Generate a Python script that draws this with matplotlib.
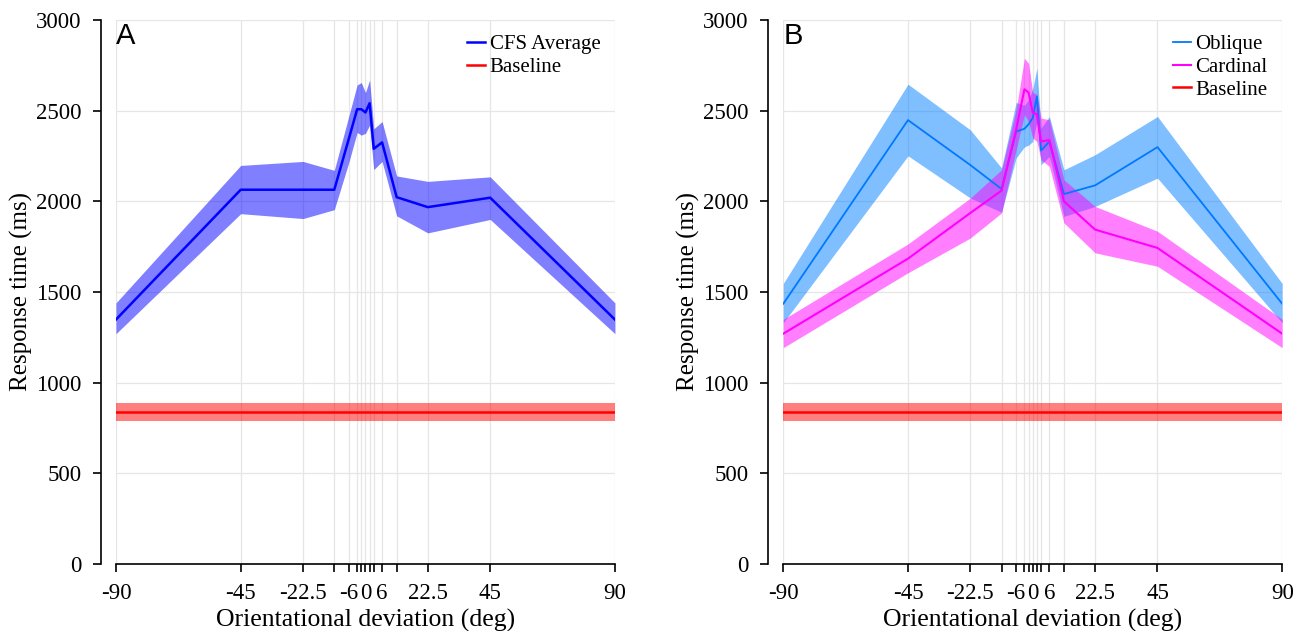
import matplotlib
matplotlib.use("Agg")
import matplotlib.pyplot as plt

# orientational deviation (deg) at which response times were measured
devs = [-90, -45, -22.5, -11.25, -6, -3, -1.5, 0, 1.5, 3, 6, 11.25, 22.5, 45, 90]

# panel A: CFS average
cfs_mean = [1348, 2064, 2064, 2064, 2345, 2508, 2508, 2490, 2541, 2290, 2325, 2023, 1968, 2020, 1348]
cfs_hi = [1440, 2198, 2220, 2171, 2470, 2642, 2655, 2600, 2669, 2400, 2440, 2140, 2110, 2135, 1440]
cfs_lo = [1270, 1932, 1905, 1954, 2215, 2380, 2365, 2375, 2420, 2175, 2220, 1920, 1826, 1900, 1270]

# panel B: oblique vs cardinal
obl_mean = [1435, 2448, 2200, 2068, 2385, 2400, 2425, 2460, 2578, 2280, 2330, 2040, 2088, 2299, 1435]
obl_hi = [1547, 2646, 2394, 2184, 2545, 2530, 2560, 2620, 2734, 2404, 2468, 2174, 2257, 2468, 1547]
obl_lo = [1330, 2251, 2018, 1940, 2239, 2300, 2310, 2330, 2440, 2202, 2248, 1917, 1972, 2128, 1330]

card_mean = [1270, 1684, 1936, 2059, 2394, 2618, 2600, 2490, 2480, 2330, 2338, 2000, 1844, 1743, 1270]
card_hi = [1349, 1765, 2018, 2174, 2505, 2789, 2761, 2600, 2590, 2459, 2450, 2119, 1972, 1835, 1349]
card_lo = [1193, 1606, 1798, 1936, 2284, 2477, 2440, 2349, 2330, 2229, 2193, 1881, 1716, 1642, 1193]

# baseline (no masking)
base_x = [-90, 90]
base_mean = [838, 838]
base_hi = [890, 890]
base_lo = [789, 789]

tick_pos = [-90, -45, -22.5, -11.25, -6, -3, -1.5, 0, 1.5, 3, 6, 11.25, 22.5, 45, 90]
tick_lab = ["-90", "-45", "-22.5", "", "-6", "", "", "0", "", "", "6", "", "22.5", "45", "90"]
y_ticks = [0, 500, 1000, 1500, 2000, 2500, 3000]

plt.rcParams["font.family"] = ["Liberation Serif", "DejaVu Serif"]

fig = plt.figure(figsize=(13.12, 6.31), dpi=100)
axA = fig.add_axes([0.0884, 0.1062, 0.3803, 0.8621])
axB = fig.add_axes([0.5970, 0.1062, 0.3803, 0.8621])


def style_axes(ax, letter):
    ax.set_xlim(-90, 90)
    ax.set_ylim(0, 3000)
    ax.set_xticks(tick_pos)
    ax.set_xticklabels(tick_lab)
    ax.set_yticks(y_ticks)
    ax.tick_params(labelsize=16.5, length=6, width=1.2, direction="out", pad=8)
    ax.grid(True, color="#e6e6e6", linewidth=0.9)
    ax.set_axisbelow(True)
    for s in ["top", "right"]:
        ax.spines[s].set_visible(False)
    ax.spines["left"].set_position(("outward", 11))
    ax.spines["left"].set_linewidth(1.2)
    ax.spines["bottom"].set_linewidth(1.2)
    ax.set_xlabel("Orientational deviation (deg)", fontsize=18.5, labelpad=3)
    ax.set_ylabel("Response time (ms)", fontsize=18, labelpad=2)
    ax.text(0.0, 0.997, letter, transform=ax.transAxes, ha="left", va="top",
            fontsize=21, family="Liberation Sans")


# panel A
axA.fill_between(devs, cfs_lo, cfs_hi, color=(0, 0, 1), alpha=0.5, linewidth=0)
axA.plot(devs, cfs_mean, color=(0, 0, 1), lw=1.8, label="CFS Average")
axA.fill_between(base_x, base_lo, base_hi, color=(1, 0, 0), alpha=0.5, linewidth=0)
axA.plot(base_x, base_mean, color=(1, 0, 0), lw=1.8, label="Baseline")
style_axes(axA, "A")
axA.legend(loc="upper right", frameon=False, fontsize=15, handlelength=0.9,
           handletextpad=0.2, labelspacing=0.15, borderaxespad=0.3)

# panel B
axB.fill_between(devs, obl_lo, obl_hi, color=(0, 0.5, 1), alpha=0.5, linewidth=0)
axB.plot(devs, obl_mean, color=(0, 0.47, 1), lw=1.3, label="Oblique")
axB.fill_between(devs, card_lo, card_hi, color=(1, 0, 1), alpha=0.5, linewidth=0)
axB.plot(devs, card_mean, color=(1, 0, 1), lw=1.5, label="Cardinal")
axB.fill_between(base_x, base_lo, base_hi, color=(1, 0, 0), alpha=0.5, linewidth=0)
axB.plot(base_x, base_mean, color=(1, 0, 0), lw=1.8, label="Baseline")
style_axes(axB, "B")
axB.legend(loc="upper right", frameon=False, fontsize=15, handlelength=0.9,
           handletextpad=0.2, labelspacing=0.15, borderaxespad=0.3)

fig.savefig("out.png", dpi=100)
